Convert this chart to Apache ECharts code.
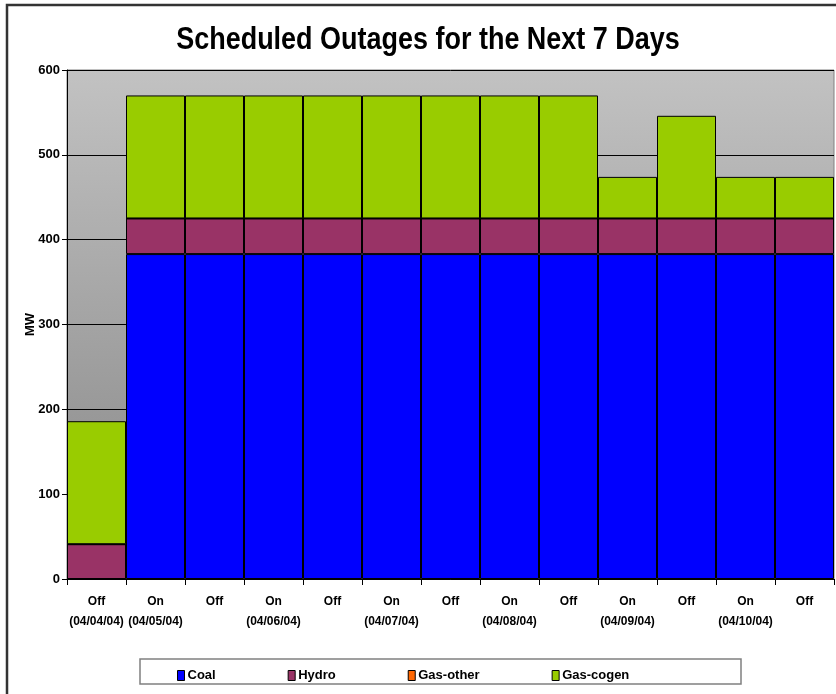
<!DOCTYPE html>
<html>
<head>
<meta charset="utf-8">
<script src="https://cdn.jsdelivr.net/npm/echarts@6/dist/echarts.min.js"></script>
<style>html,body{margin:0;padding:0;background:#fff}#c{width:836px;height:694px}</style>
</head>
<body>
<div id="c"></div>
<script>
var categories = ['Off\n(04/04/04)','On\n(04/05/04)','Off','On\n(04/06/04)','Off','On\n(04/07/04)','Off','On\n(04/08/04)','Off','On\n(04/09/04)','Off','On\n(04/10/04)','Off'];
var coal     = [0, 383, 383, 383, 383, 383, 383, 383, 383, 383, 383, 383, 383];
var hydro    = [41, 42, 42, 42, 42, 42, 42, 42, 42, 42, 42, 42, 42];
var gasOther = [0, 0, 0, 0, 0, 0, 0, 0, 0, 0, 0, 0, 0];
var gasCogen = [145, 145, 145, 145, 145, 145, 145, 145, 145, 49, 121, 49, 49];
var yTicks = [0, 100, 200, 300, 400, 500, 600];

var FONT = "'Liberation Sans', Arial, sans-serif";
var chart = echarts.init(document.getElementById('c'));
function ser(name, data, color) {
  return {
    name: name, type: 'bar', stack: 'total', data: data,
    barCategoryGap: '0%',
    itemStyle: { color: color, borderColor: '#000', borderWidth: 1 },
    emphasis: { disabled: true }
  };
}
chart.setOption({
  animation: false,
  textStyle: { fontFamily: FONT },
  graphic: [
    { type: 'rect', shape: { x: 7, y: 5, width: 840, height: 700 }, style: { fill: 'none', stroke: '#333', lineWidth: 2.5 }, silent: true },
    { type: 'rect', shape: { x: 140, y: 659, width: 601, height: 25 }, style: { fill: '#fff', stroke: '#808080', lineWidth: 1.5 }, silent: true },
    { type: 'text', x: 428, y: 40, scaleX: 0.87, silent: true,
      style: { x: 0, y: 0, text: 'Scheduled Outages for the Next 7 Days', textAlign: 'center', textVerticalAlign: 'middle',
        font: "bold 31px 'Liberation Sans', Arial, sans-serif", fill: '#000' } }
  ],
  legend: {
    left: 172, top: 664,
    itemGap: 72,
    itemWidth: 7, itemHeight: 10,
    icon: 'rect',
    itemStyle: { borderColor: '#000', borderWidth: 1 },
    textStyle: { fontFamily: FONT, fontWeight: 'bold', fontSize: 13, color: '#000', padding: [0, 0, 0, -2] },
    data: ['Coal', 'Hydro', 'Gas-other', 'Gas-cogen']
  },
  grid: {
    left: 67, right: 2, top: 70, bottom: 115,
    show: true,
    borderColor: '#808080', borderWidth: 1,
    backgroundColor: {
      type: 'linear', x: 0, y: 0, x2: 0, y2: 1,
      colorStops: [{ offset: 0, color: '#c2c2c2' }, { offset: 1, color: '#858585' }]
    }
  },
  xAxis: {
    type: 'category', data: categories,
    axisLine: { lineStyle: { color: '#000', width: 1 } },
    axisTick: { show: true, length: 6, lineStyle: { color: '#000' } },
    axisLabel: { interval: 0, margin: 13, fontFamily: FONT, fontWeight: 'bold', fontSize: 12, color: '#000', lineHeight: 20 }
  },
  yAxis: {
    type: 'value', min: 0, max: 600, interval: 100,
    name: 'MW', nameLocation: 'middle', nameGap: 30, nameRotate: 90, nameMoveOverlap: false,
    nameTextStyle: { fontFamily: FONT, fontWeight: 'bold', fontSize: 13, color: '#000' },
    axisLine: { show: true, lineStyle: { color: '#000', width: 1 } },
    axisTick: { show: true, length: 5, lineStyle: { color: '#000' } },
    axisLabel: { margin: 7, fontFamily: FONT, fontWeight: 'bold', fontSize: 13, color: '#000',
      formatter: function (v) { return yTicks.indexOf(v) >= 0 ? String(v) : ''; } },
    splitLine: { show: true, lineStyle: { color: '#000', width: 1 } }
  },
  series: [
    ser('Coal', coal, '#0000FF'),
    ser('Hydro', hydro, '#993366'),
    ser('Gas-other', gasOther, '#FF6600'),
    ser('Gas-cogen', gasCogen, '#99CC00')
  ]
});
</script>
</body>
</html>
